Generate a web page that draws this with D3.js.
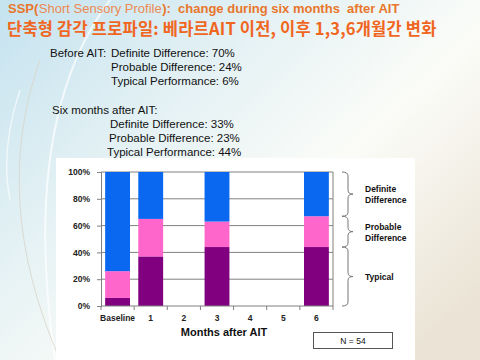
<!DOCTYPE html>
<html><head><meta charset="utf-8">
<script src="https://cdn.jsdelivr.net/npm/d3@7"></script>
<style>body{margin:0;overflow:hidden}svg{display:block}</style>
</head><body>
<script>
const categories = ["Baseline","1","2","3","4","5","6"];
const typical  = [6, 37, null, 44, null, null, 44];
const probable = [20, 28, null, 19, null, null, 23];
const definite = [74, 35, null, 37, null, null, 33];
const seriesNames = ["Typical","Probable Difference","Definite Difference"];
const yTicks = [0,20,40,60,80,100];
const beforeText = ["Definite Difference: 70%","Probable Difference: 24%","Typical Performance: 6%"];
const afterText = ["Definite Difference: 33%","Probable Difference: 23%","Typical Performance: 44%"];

const W=480,H=360;
const svg=d3.select("body").append("svg").attr("width",W).attr("height",H);
const defs=svg.append("defs");
const g1=defs.append("linearGradient").attr("id","bg").attr("x1","0").attr("y1","0").attr("x2","1").attr("y2","0.8");
g1.append("stop").attr("offset","0").attr("stop-color","#c4e2ef");
g1.append("stop").attr("offset","0.35").attr("stop-color","#e4f1f4");
g1.append("stop").attr("offset","0.65").attr("stop-color","#fbfcf8");
g1.append("stop").attr("offset","1").attr("stop-color","#ebe4d6");
svg.append("rect").attr("width",W).attr("height",H).attr("fill","url(#bg)");
svg.append("path").attr("d","M110,0 Q20,120 55,360").attr("fill","none").attr("stroke","#ffffff").attr("stroke-width",2).attr("opacity",0.7);
svg.append("path").attr("d","M40,60 Q-10,200 60,360").attr("fill","none").attr("stroke","#d8d4c8").attr("stroke-width",1).attr("opacity",0.8);
svg.append("path").attr("d","M20,90 Q0,150 10,200").attr("fill","none").attr("stroke","#ffffff").attr("stroke-width",1.5).attr("opacity",0.6);

const bf="Liberation Sans, Arial, sans-serif";
const parts=[["SSP(","#e8762c","bold"],["Short Sensory Profile","#ec8a52","normal"],["):  change during six months  after AIT","#e8762c","bold"]];
let cx=8;
parts.forEach(([s,c,w])=>{
  const t=svg.append("text").attr("x",cx).attr("y",13).attr("font-family",bf).attr("font-size",13).attr("font-weight",w).attr("fill",c).attr("xml:space","preserve").style("white-space","pre").text(s);
  cx+=t.node().getComputedTextLength()+0.5;
});
svg.append("text").attr("x",7).attr("y",35).attr("font-family","Noto Sans CJK KR, sans-serif").attr("font-weight","bold").attr("font-size",16.5).attr("letter-spacing",0.2).attr("fill","#f0661e")
  .text("단축형 감각 프로파일: 베라르AIT 이전, 이후 1,3,6개월간 변화");

function txt(x,y,s){svg.append("text").attr("x",x).attr("y",y).attr("font-family",bf).attr("font-size",11.5).attr("fill","#111").text(s);}
txt(50,57,"Before AIT:");
txt(111,57,beforeText[0]); txt(111,71,beforeText[1]); txt(111,85,beforeText[2]);
txt(52,114,"Six months after AIT:");
txt(110,128,afterText[0]); txt(109,142,afterText[1]); txt(107,156,afterText[2]);

svg.append("rect").attr("x",56).attr("y",158).attr("width",359).attr("height",202).attr("fill","#ffffff");

const x=d3.scaleBand().domain(categories).range([101,333]).paddingInner(0.25).paddingOuter(0.125);
const y=d3.scaleLinear().domain([0,100]).range([306,172]);

svg.append("g").selectAll("line").data(yTicks.filter(d=>d>0)).join("line")
  .attr("x1",101).attr("x2",333).attr("y1",d=>y(d)).attr("y2",d=>y(d)).attr("stroke","#808080").attr("stroke-width",1);

const rows=categories.map((c,i)=>({cat:c,Typical:typical[i]||0,"Probable Difference":probable[i]||0,"Definite Difference":definite[i]||0}));
const stack=d3.stack().keys(seriesNames)(rows);
const colors={"Typical":"#800080","Probable Difference":"#ff66cc","Definite Difference":"#0a68f0"};
svg.append("g").selectAll("g").data(stack).join("g").attr("fill",d=>colors[d.key])
  .selectAll("rect").data(d=>d.filter(e=>e[1]>e[0])).join("rect")
  .attr("x",d=>x(d.data.cat)).attr("width",x.bandwidth())
  .attr("y",d=>y(d[1])).attr("height",d=>y(d[0])-y(d[1]));

svg.append("line").attr("x1",333).attr("x2",333).attr("y1",172).attr("y2",306).attr("stroke","#808080");

const ya=svg.append("g").attr("transform","translate(101,0)").call(d3.axisLeft(y).tickValues(yTicks).tickFormat(d=>d+"%").tickSize(4).tickPadding(7));
ya.select(".domain").attr("stroke","#808080");
ya.selectAll(".tick line").attr("stroke","#808080");
ya.selectAll("text").attr("font-family",bf).attr("font-weight","bold").attr("font-size",8.5).attr("fill","#222");

const xa=svg.append("g").attr("transform","translate(0,306)").call(d3.axisBottom(x).tickSize(0).tickPadding(9));
xa.select(".domain").attr("stroke","#808080").attr("d","M101,0H333");
xa.selectAll("text").attr("font-family",bf).attr("font-weight","bold").attr("font-size",8.5).attr("fill","#222");
const step=x.step();
svg.append("g").selectAll("line").data(d3.range(categories.length+1)).join("line")
  .attr("x1",i=>101+i*step).attr("x2",i=>101+i*step).attr("y1",306).attr("y2",310).attr("stroke","#808080");

svg.append("text").attr("x",224).attr("y",336).attr("text-anchor","middle").attr("font-family",bf).attr("font-weight","bold").attr("font-size",11).attr("fill","#111").text("Months after AIT");

function brace(y0,y1,ym){
  const x0=342,x1=353,r=4;
  const p=`M${x0},${y0} Q${x0+r+2},${y0} ${x0+r+2},${y0+r} L${x0+r+2},${ym-r} Q${x0+r+2},${ym} ${x1},${ym} Q${x0+r+2},${ym} ${x0+r+2},${ym+r} L${x0+r+2},${y1-r} Q${x0+r+2},${y1} ${x0},${y1}`;
  svg.append("path").attr("d",p).attr("fill","none").attr("stroke","#777").attr("stroke-width",1);
}
brace(y(100),y(67),y(83.5));
brace(y(67),y(44),y(55.5));
brace(y(44),y(0),y(22));
function lab(yc,lines){
  lines.forEach((s,i)=>svg.append("text").attr("x",365).attr("y",yc+i*11+3).attr("font-family",bf).attr("font-weight","bold").attr("font-size",8.5).attr("fill","#111").text(s));
}
lab(y(83.5)-5,["Definite","Difference"]);
lab(y(55.5)-5,["Probable","Difference"]);
lab(y(22),["Typical"]);

svg.append("rect").attr("x",313.5).attr("y",332.5).attr("width",79).attr("height",16).attr("fill","#fff").attr("stroke","#555");
svg.append("text").attr("x",353).attr("y",344).attr("text-anchor","middle").attr("font-family",bf).attr("font-size",8.5).attr("fill","#111").text("N = 54");
</script>
</body></html>
